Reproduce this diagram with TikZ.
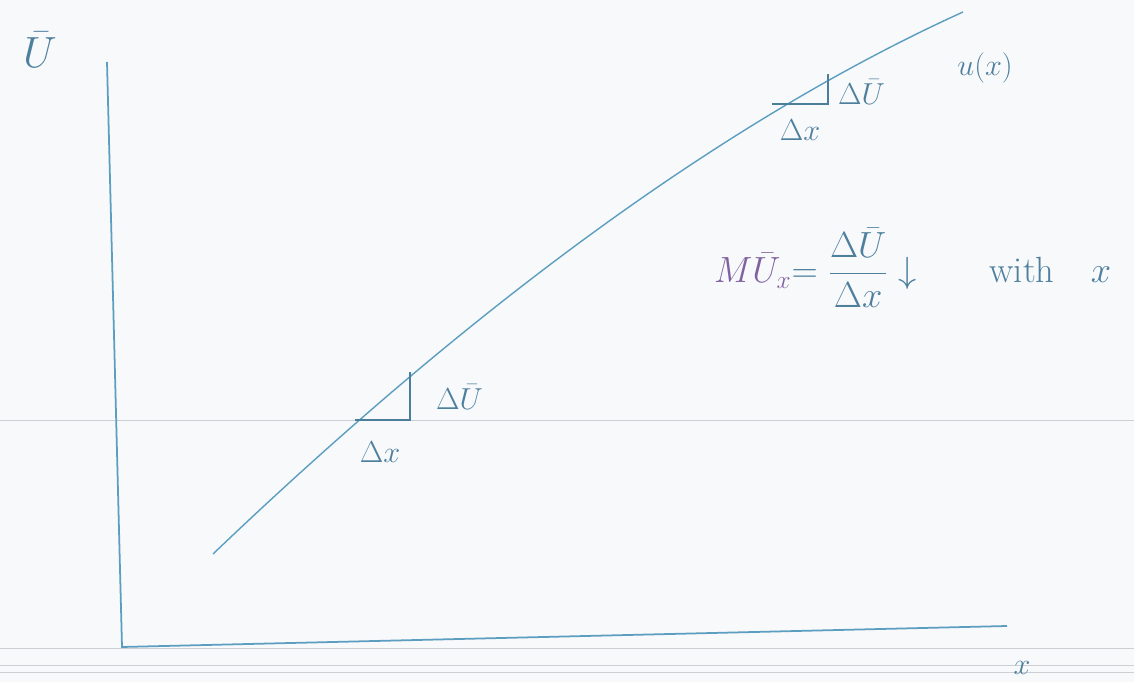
\documentclass[tikz,border=0pt]{standalone}
\usepackage{amsmath}
\usepackage{tikz}
\usetikzlibrary{positioning, calc}

\definecolor{paper}{RGB}{248,249,251}
\definecolor{rule}{RGB}{205,207,212}
\definecolor{pen}{RGB}{92,158,192}
\definecolor{ink}{RGB}{78,128,158}
\definecolor{plum}{RGB}{128,98,160}

\begin{document}
\begin{tikzpicture}[
    x=0.02cm, y=-0.02cm,
    axis/.style={draw=pen, line width=1pt},
    curve/.style={draw=pen, line width=0.8pt},
    leg/.style={draw=pen!80!black, line width=0.9pt},
    ruled/.style={draw=rule, line width=0.5pt},
    lbl/.style={text=ink, font=\LARGE, inner sep=1pt}
]

% Paper
\fill[paper] (0,0) rectangle (1134,682);
\useasboundingbox (0,0) rectangle (1134,682);

% Ruled lines of the sheet
\coordinate (r1l) at (0,420);   \coordinate (r1r) at (1134,420);
\coordinate (r2l) at (0,648);   \coordinate (r2r) at (1134,648);
\coordinate (r3l) at (0,665);   \coordinate (r3r) at (1134,665);
\coordinate (r4l) at (0,672);   \coordinate (r4r) at (1134,672);
\draw[ruled] (r1l) -- (r1r);
\draw[ruled] (r2l) -- (r2r);
\draw[ruled] (r3l) -- (r3r);
\draw[ruled] (r4l) -- (r4r);

% Axes
\coordinate (origin) at (122,647);
\coordinate (ytop) at (107,62);
\coordinate (xend) at (1007,626);
\draw[axis] (ytop) -- (origin) -- (xend);

% Utility curve
\coordinate (cstart) at (213,554);
\coordinate (cend) at (963,12);
\draw[curve] (cstart) .. controls (483,296) and (734,116) .. (cend);

% Lower slope triangle
\coordinate (la) at (355,420);
\coordinate (lb) at (410,420);
\coordinate (lc) at (410,372);
\draw[leg] (la) -- (lb) -- (lc);

% Upper slope triangle
\coordinate (ua) at (772,104);
\coordinate (ub) at (828,104);
\coordinate (uc) at (828,74);
\draw[leg] (ua) -- (ub) -- (uc);

% Labels
\node[lbl, font=\Huge] (ubar) at (40,50) {$\bar U$};
\node[lbl] (uofx) at (985,68) {$u(x)$};
\node[lbl, anchor=west] (dutop) at (836,92) {$\Delta\bar U$};
\node[lbl] (dxtop) at (800,130) {$\Delta x$};
\node[lbl, anchor=west] (dulow) at (434,397) {$\Delta\bar U$};
\node[lbl] (dxlow) at (380,452) {$\Delta x$};
\node[lbl] (xlbl) at (1022,668) {$x$};

% Marginal utility remark
\node[lbl, font=\huge, anchor=west] (mu) at (712,268)
    {{\color{plum}$M\bar U_x$}$=\dfrac{\Delta\bar U}{\Delta x}\downarrow$\qquad with\quad $x$};

\end{tikzpicture}
\end{document}
